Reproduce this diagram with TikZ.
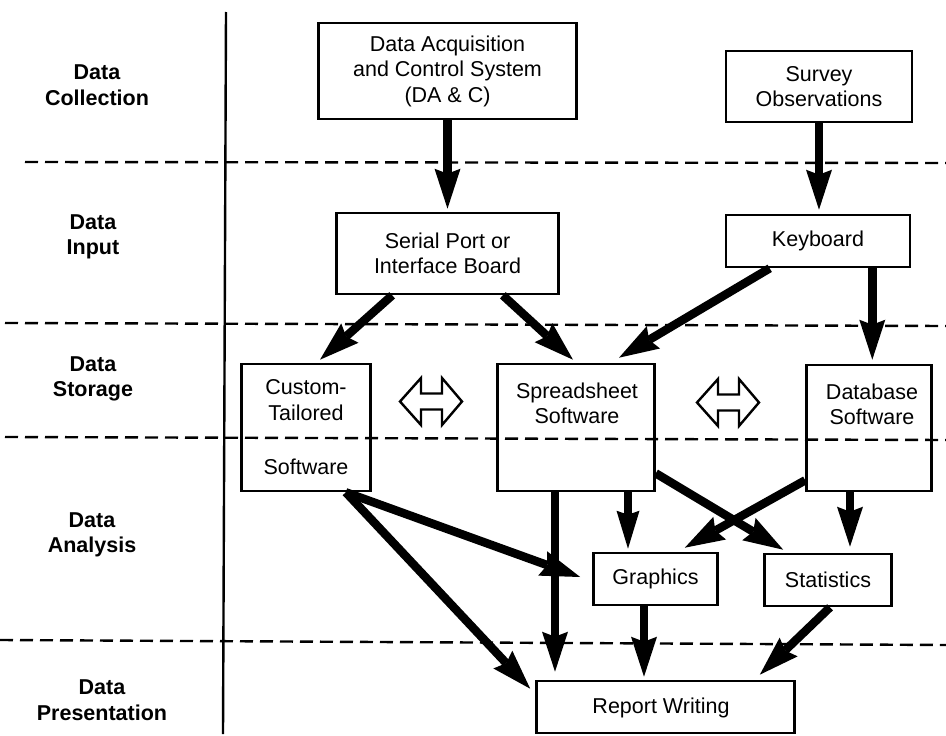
\documentclass[tikz,border=0pt]{standalone}
\usepackage{fontspec}
\setmainfont{Liberation Sans}
\usetikzlibrary{arrows.meta}
\begin{document}
\begin{tikzpicture}[x=1pt,y=-1pt,
  box/.style={draw, line width=2.6pt, inner sep=0pt, align=center,
              font=\fontsize{21.5}{25.5}\selectfont},
  txt/.style={align=center, inner sep=0pt, font=\fontsize{21.5}{25.5}\selectfont},
  lab/.style={align=center, inner sep=0pt, font=\fontsize{21.5}{25.5}\selectfont\bfseries},
  flow/.style={line width=8.5pt, -{Stealth[length=40pt,width=26pt,inset=5pt,line width=0pt]}},
  shortflow/.style={line width=8.5pt, -{Stealth[length=38pt,width=23pt,inset=4pt,line width=0pt]}},
  sep/.style={line width=2.4pt, dash pattern=on 13pt off 7pt},
  swap/.style={draw, line width=2.4pt, fill=white, line join=miter},
]
\useasboundingbox (0,0) rectangle (946,736);

% stage separators
\draw[line width=2.4pt] (226,12) -- (223,734);
\draw[sep] (25,162) -- (946,163);
\draw[sep] (5,323) -- (946,326);
\draw[sep] (5,437) -- (946,440);
\draw[sep] (0,640) -- (946,645);

% stage labels
\node[lab] (lcol) at (97,85)  {Data\\Collection};
\node[lab] (linp) at (93,237) {Data\\Input};
\node[lab] (lsto) at (93,379) {Data\\Storage};
\node[lab] (lana) at (92,535) {Data\\Analysis};
\node[lab] (lpre) at (102,700) {Data\\Presentation};

% boxes
\node[box, minimum width=258pt, minimum height=96pt] (daq) at (447.5,71)
  {Data Acquisition\\and Control System\\(DA \& C)};
\node[box, minimum width=186pt, minimum height=71pt] (survey) at (819,86.5)
  {Survey\\Observations};
\node[box, minimum width=222pt, minimum height=81pt] (serial) at (447.5,253.5)
  {Serial Port or\\Interface Board};
\node[box, minimum width=184pt, minimum height=52pt] (keyboard) at (818,241)
  {Keyboard};
\node[box, minimum width=129pt, minimum height=127pt] (custom) at (306,427.5)
  {Custom-\\Tailored\\[29pt]Software};
\node[box, minimum width=157pt, minimum height=127pt] (ss) at (576,427.5) {};
\node[txt] (sstext) at (577,403.5) {Spreadsheet\\Software};
\node[box, minimum width=125pt, minimum height=126pt] (db) at (869,428) {};
\node[txt] (dbtext) at (872,404.5) {Database\\Software};
\node[box, minimum width=124pt, minimum height=52pt] (graphics) at (655.5,579)
  {Graphics};
\node[box, minimum width=127pt, minimum height=52pt] (stats) at (828,580)
  {Statistics};
\node[box, minimum width=258pt, minimum height=52pt] (report) at (665.5,707) {};
\node[txt] (reporttext) at (661,708) {Report Writing};

% two-way exchange symbols
\draw[swap] (400,401.5) -- (421,378) -- (421,393.5) -- (442,393.5) -- (442,378)
  -- (462,401.5) -- (442,425) -- (442,409.5) -- (421,409.5) -- (421,425) -- cycle;
\draw[swap] (697,402.5) -- (718,379) -- (718,394.5) -- (739,394.5) -- (739,379)
  -- (759,402.5) -- (739,426) -- (739,410.5) -- (718,410.5) -- (718,426) -- cycle;

% data flow
\draw[flow, shorten >=3pt] (daq.south) -- (serial.north);
\draw[flow, shorten >=4pt] (survey.south) -- (survey.south |- keyboard.north);
\draw[flow] ([xshift=57pt]serial.south west) -- ([xshift=14pt,yshift=3pt]custom.north);
\draw[flow] ([xshift=-57pt]serial.south east) -- ([xshift=-3pt,yshift=3pt]ss.north);
\draw[flow] ([xshift=45pt]keyboard.south west) -- ([xshift=43pt,yshift=5pt]ss.north);
\draw[flow, shorten >=4pt] ([xshift=-39pt]keyboard.south east)
  -- ([xshift=-39pt]keyboard.south east |- db.north);
\draw[flow] ([xshift=-26pt]custom.south east) -- ([xshift=-12pt,yshift=2pt]graphics.west);
\draw[flow] ([xshift=-26pt]custom.south east) -- ([xshift=-5pt,yshift=-9pt]report.north west);
\draw[flow, shorten >=8pt] ([xshift=-21pt]ss.south) -- ([xshift=-21pt]ss.south |- report.north);
\draw[shortflow, shorten >=3pt] ([xshift=52pt]ss.south) -- ([xshift=52pt]ss.south |- graphics.north);
\draw[flow] ([yshift=19pt]ss.south east) -- ([xshift=20pt,yshift=3pt]stats.north west);
\draw[flow] ([yshift=12pt]db.south west) -- ([xshift=-34pt,yshift=4pt]graphics.north east);
\draw[flow, shorten >=6pt] ([xshift=-19pt]db.south) -- ([xshift=-19pt]db.south |- stats.north);
\draw[flow, shorten >=3pt] ([xshift=-11.5pt]graphics.south) -- ([xshift=-11.5pt]graphics.south |- report.north);
\draw[flow] ([xshift=2pt]stats.south) -- ([xshift=-36pt,yshift=5pt]report.north east);
\end{tikzpicture}
\end{document}
